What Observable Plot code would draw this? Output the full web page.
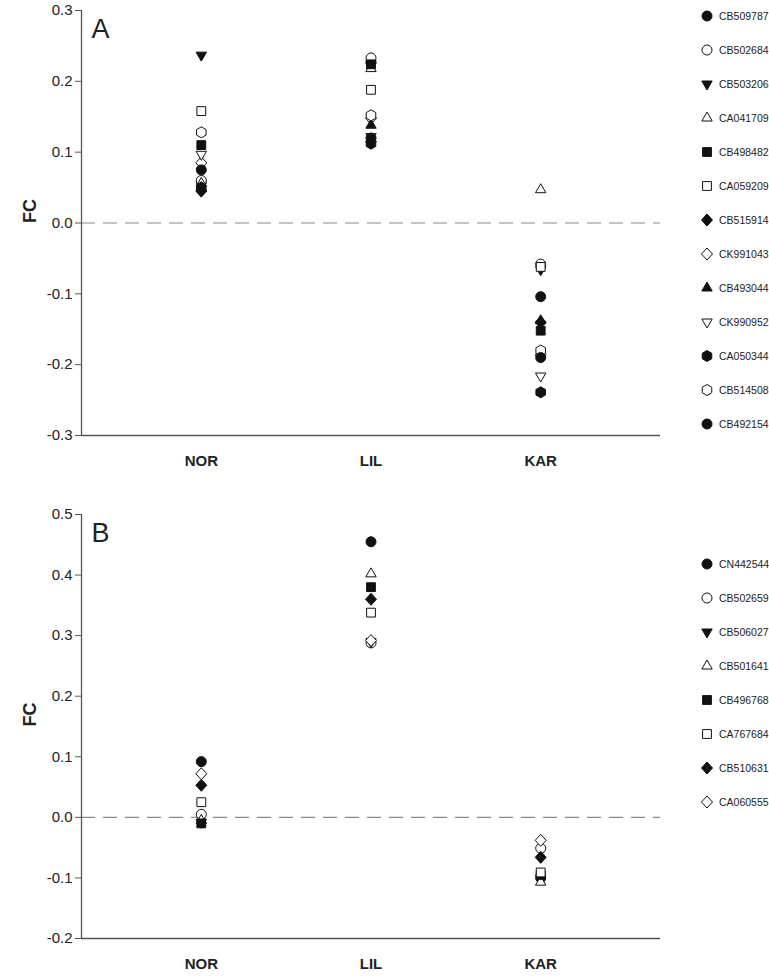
<!DOCTYPE html>
<html>
<head>
<meta charset="utf-8">
<script src="https://cdn.jsdelivr.net/npm/d3@7"></script>
<script src="https://cdn.jsdelivr.net/npm/@observablehq/plot@0.6"></script>
<style>
  html, body { margin: 0; padding: 0; background: #fff; }
  #chart { position: relative; width: 769px; height: 978px; font-family: "Liberation Sans", Arial, sans-serif; overflow: hidden; }
  #chart svg.panel { position: absolute; left: 0; }
  .legend { position: absolute; left: 700px; top: 0; width: 69px; font-size: 10.5px; color: #222; }
  .legend .row { position: absolute; left: 0; height: 16px; display: flex; align-items: center; white-space: nowrap; }
  .legend .row svg { width: 14px; height: 14px; margin-right: 5px; overflow: visible; flex: none; }
</style>
</head>
<body>
<div id="chart"></div>
<script>
// ---------- data ----------
const categories = ["NOR", "LIL", "KAR"];

// Panel A
const seriesA = ["CB509787", "CB502684", "CB503206", "CA041709", "CB498482", "CA059209",
  "CB515914", "CK991043", "CB493044", "CK990952", "CA050344", "CB514508", "CB492154"];
// values per series: [NOR, LIL, KAR]
const fcA = [
  [0.058, 0.227, -0.104],
  [0.060, 0.233, -0.058],
  [0.237, 0.222, -0.066],
  [0.056, 0.218, 0.047],
  [0.110, 0.224, -0.152],
  [0.158, 0.188, -0.062],
  [0.045, 0.115, -0.140],
  [0.085, 0.148, -0.186],
  [0.050, 0.138, -0.138],
  [0.097, 0.122, -0.216],
  [0.050, 0.112, -0.239],
  [0.128, 0.152, -0.180],
  [0.075, 0.120, -0.190]
];
const yTicksA = [-0.3, -0.2, -0.1, 0.0, 0.1, 0.2, 0.3];

// Panel B
const seriesB = ["CN442544", "CB502659", "CB506027", "CB501641", "CB496768", "CA767684", "CB510631", "CA060555"];
const fcB = [
  [0.092, 0.455, -0.100],
  [0.005, 0.288, -0.051],
  [-0.008, 0.290, -0.100],
  [-0.005, 0.402, -0.107],
  [-0.010, 0.380, -0.095],
  [0.025, 0.338, -0.091],
  [0.053, 0.360, -0.066],
  [0.072, 0.292, -0.038]
];
const yTicksB = [-0.2, -0.1, 0.0, 0.1, 0.2, 0.3, 0.4, 0.5];

// marker styles
const shapeA = ["circle", "circle", "triDown", "triUp", "square", "square", "diamond", "diamond", "triUp", "triDown", "hexagon", "hexagon", "circle"];
const filledA = [true, false, true, false, true, false, true, false, true, false, true, false, true];
const shapeB = ["circle", "circle", "triDown", "triUp", "square", "square", "diamond", "diamond"];
const filledB = [true, false, true, false, true, false, true, false];

// ---------- symbols ----------
const rad = size => Math.sqrt(size / Math.PI);
const shapes = {
  circle: {draw(c, s) { const r = rad(s); c.moveTo(r, 0); c.arc(0, 0, r, 0, 2 * Math.PI); }},
  square: {draw(c, s) { const h = rad(s) * 0.88; c.moveTo(-h, -h); c.lineTo(h, -h); c.lineTo(h, h); c.lineTo(-h, h); c.closePath(); }},
  triUp: {draw(c, s) { const r = rad(s) * 1.2; c.moveTo(0, -r); c.lineTo(r * 0.866, r / 2); c.lineTo(-r * 0.866, r / 2); c.closePath(); }},
  triDown: {draw(c, s) { const r = rad(s) * 1.2; c.moveTo(0, r); c.lineTo(r * 0.866, -r / 2); c.lineTo(-r * 0.866, -r / 2); c.closePath(); }},
  diamond: {draw(c, s) { const r = rad(s); c.moveTo(0, -1.2 * r); c.lineTo(1.1 * r, 0); c.lineTo(0, 1.2 * r); c.lineTo(-1.1 * r, 0); c.closePath(); }},
  hexagon: {draw(c, s) { const r = rad(s) * 1.1; c.moveTo(0, -r); for (let k = 1; k < 6; k++) { const a = -Math.PI / 2 + k * Math.PI / 3; c.lineTo(r * Math.cos(a), r * Math.sin(a)); } c.closePath(); }}
};

const R = 5;
const INK = "#111";

function panel({series, values, shape, filled, ticks, letter, height, marginTop, marginBottom}) {
  const marks = [
    Plot.ruleY([0], {stroke: "#8a8a8a", strokeWidth: 1.2, strokeDasharray: "14,8"}),
  ];
  series.forEach((name, i) => {
    const rows = categories.map((c, j) => ({cat: j, fc: values[i][j], name}));
    marks.push(Plot.dot(rows, {
      x: "cat", y: "fc", r: R,
      symbol: shapes[shape[i]],
      fill: filled[i] ? INK : "white",
      stroke: INK, strokeWidth: 1
    }));
  });
  marks.push(
    Plot.ruleX([-0.706], {stroke: "#555", strokeWidth: 1.3}),
    Plot.ruleY([ticks[0]], {stroke: "#555", strokeWidth: 1.3}),
    Plot.axisY({ticks, tickSize: 6, tickPadding: 3, tickFormat: d => d3.format(".1f")(d).replace("−", "-"), fontSize: 15, stroke: "#555", fill: "#222", label: null}),
    Plot.axisX({ticks: [0, 1, 2], tickSize: 0, tickPadding: 20, tickFormat: i => categories[i], fontSize: 15, fontWeight: "bold", fill: "#222", label: null}),
    Plot.text(["FC"], {frameAnchor: "left", dx: -51, rotate: -90, fontSize: 18, fontWeight: "bold", fill: "#222"}),
    Plot.text([letter], {frameAnchor: "top-left", dx: 10, dy: 8, fontSize: 27, fill: "#222", textAnchor: "start", lineAnchor: "top"})
  );
  return Plot.plot({
    width: 769, height, marginLeft: 81, marginRight: 109, marginTop, marginBottom,
    style: {fontFamily: "'Liberation Sans', Arial, sans-serif", background: "white", overflow: "visible"},
    x: {type: "linear", domain: [-0.706, 2.706], axis: null},
    y: {domain: [ticks[0], ticks[ticks.length - 1]], axis: null},
    marks
  });
}

function legend(series, shape, filled, top, step) {
  const div = document.createElement("div");
  div.className = "legend";
  series.forEach((name, i) => {
    const row = document.createElement("div");
    row.className = "row";
    row.style.top = (top + i * step - 8) + "px";
    const path = d3.symbol(shapes[shape[i]], Math.PI * R * R)();
    row.innerHTML = `<svg viewBox="-7 -7 14 14"><path d="${path}" fill="${filled[i] ? INK : "white"}" stroke="${INK}" stroke-width="1"/></svg><span>${name}</span>`;
    div.appendChild(row);
  });
  return div;
}

const chart = document.getElementById("chart");
const a = panel({series: seriesA, values: fcA, shape: shapeA, filled: filledA, ticks: yTicksA, letter: "A", height: 478, marginTop: 10, marginBottom: 43});
a.classList.add("panel"); a.style.top = "0px";
chart.appendChild(a);
const b = panel({series: seriesB, values: fcB, shape: shapeB, filled: filledB, ticks: yTicksB, letter: "B", height: 478, marginTop: 14, marginBottom: 40});
b.classList.add("panel"); b.style.top = "500px";
chart.appendChild(b);
chart.appendChild(legend(seriesA, shapeA, filledA, 16, 34));
chart.appendChild(legend(seriesB, shapeB, filledB, 564, 34));
</script>
</body>
</html>
